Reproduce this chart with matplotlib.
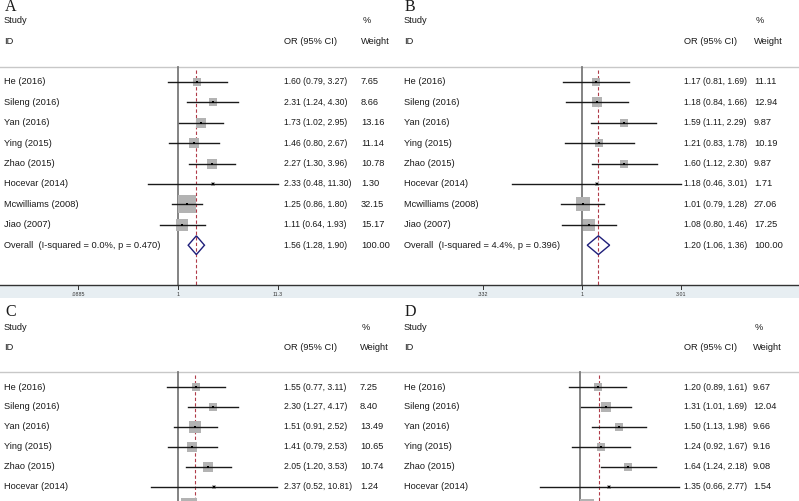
import matplotlib
matplotlib.use("Agg")
import matplotlib.pyplot as plt
from matplotlib.patches import Polygon
from matplotlib.transforms import blended_transform_factory

W, H = 799, 501
DPI = 100

STUDIES = ["He (2016)", "Sileng (2016)", "Yan (2016)", "Ying (2015)", "Zhao (2015)",
           "Hocevar (2014)", "Mcwilliams (2008)", "Jiao (2007)"]

# panel A
OR_A = [1.60, 2.31, 1.73, 1.46, 2.27, 2.33, 1.25, 1.11]
LO_A = [0.79, 1.24, 1.02, 0.80, 1.30, 0.48, 0.86, 0.64]
HI_A = [3.27, 4.30, 2.95, 2.67, 3.96, 11.30, 1.80, 1.93]
WT_A = [7.65, 8.66, 13.16, 11.14, 10.78, 1.30, 32.15, 15.17]
POOL_A = (1.56, 1.28, 1.90)
HET_A = "Overall  (I-squared = 0.0%, p = 0.470)"
TICKS_A = [0.0885, 1, 11.3]
TICKLAB_A = [".0885", "1", "11.3"]

# panel B
OR_B = [1.17, 1.18, 1.59, 1.21, 1.60, 1.18, 1.01, 1.08]
LO_B = [0.81, 0.84, 1.11, 0.83, 1.12, 0.46, 0.79, 0.80]
HI_B = [1.69, 1.66, 2.29, 1.78, 2.30, 3.01, 1.28, 1.46]
WT_B = [11.11, 12.94, 9.87, 10.19, 9.87, 1.71, 27.06, 17.25]
POOL_B = (1.20, 1.06, 1.36)
HET_B = "Overall  (I-squared = 4.4%, p = 0.396)"
TICKS_B = [0.332, 1, 3.01]
TICKLAB_B = [".332", "1", "3.01"]

# panel C (cut off at the bottom of the image)
OR_C = [1.55, 2.30, 1.51, 1.41, 2.05, 2.37, 1.29]
LO_C = [0.77, 1.27, 0.91, 0.79, 1.20, 0.52, 0.90]
HI_C = [3.11, 4.17, 2.52, 2.53, 3.53, 10.81, 1.85]
WT_C = [7.25, 8.40, 13.49, 10.65, 10.74, 1.24, 31.0]
POOL_C = 1.50

# panel D (cut off at the bottom of the image)
OR_D = [1.20, 1.31, 1.50, 1.24, 1.64, 1.35, 1.07]
LO_D = [0.89, 1.01, 1.13, 0.92, 1.24, 0.66, 0.85]
HI_D = [1.61, 1.69, 1.98, 1.67, 2.18, 2.77, 1.35]
WT_D = [9.67, 12.04, 9.66, 9.16, 9.08, 1.54, 25.0]
POOL_D = 1.22

INK = "#1a1a1a"
BOX = "#b3b3b3"
NAVY = "#1f1f7a"
RED = "#b03a48"
VLINE = "#7a7a7a"
HLINE = "#c8c8c8"
BAND = "#e7eef2"
SANS = "Liberation Sans"
SERIF = "Liberation Serif"
FS = 6.7      # labels / headers
FS_CI = 6.2   # the OR (95% CI) column is set tighter in the original


def panel(fig, letter, x0, y0, pw, center, ppd, row0, rowh, wcol, k,
          ors, los, his, wts, pool, het=None, ticks=None, ticklabs=None):
    ph = 300
    ax = fig.add_axes([x0 / W, 1 - (y0 + ph) / H, pw / W, ph / H])
    ax.set_xscale("log")
    ax.set_xlim(10 ** (-center / ppd), 10 ** ((pw - center) / ppd))
    ax.set_ylim((ph - row0) / rowh, -row0 / rowh)
    ax.axis("off")
    tr = blended_transform_factory(ax.transAxes, ax.transData)
    fx = lambda px: px / pw

    n = len(ors)
    ax.text(fx(5), (7 - row0) / rowh, letter, family=SERIF, fontsize=11.5,
            color=INK, va="center", ha="left", transform=tr)
    ax.text(fx(4), -3, "Study", family=SANS, fontsize=FS, color=INK, va="center", transform=tr)
    ax.text(fx(4), -2, "ID", family=SANS, fontsize=FS, color=INK, va="center", transform=tr)
    ax.text(fx(284), -2, "OR (95% CI)", family=SANS, fontsize=FS, color=INK, va="center", transform=tr)
    ax.text(fx(wcol + 2), -3, "%", family=SANS, fontsize=FS, color=INK, va="center", transform=tr)
    ax.text(fx(wcol), -2, "Weight", family=SANS, fontsize=FS, color=INK, va="center", transform=tr)
    ax.axhline(-0.75, color=HLINE, lw=1.0, zorder=1)

    y_axis = (285 - row0) / rowh
    ax.plot([1, 1], [-0.75, y_axis], color=VLINE, lw=1.3, zorder=2)
    pooled = pool[0] if isinstance(pool, tuple) else pool
    ax.plot([pooled, pooled], [-0.6, y_axis], color=RED, lw=0.8,
            dashes=(3, 2), zorder=2)

    for i in range(n):
        side = k * wts[i] ** 0.5
        ax.scatter([ors[i]], [i], marker="s", s=(side * 0.72) ** 2,
                   color=BOX, linewidths=0, zorder=3)
        ax.plot([los[i], his[i]], [i, i], color=INK, lw=1.0, zorder=4)
        ax.scatter([ors[i]], [i], marker="s", s=(2.2 * 0.72) ** 2,
                   color="black", linewidths=0, zorder=5)
        # rows whose centre falls below the image edge show only the box top
        if y0 + row0 + rowh * i > H - 2:
            continue
        ax.text(fx(4), i, STUDIES[i], family=SANS, fontsize=FS, color=INK,
                va="center", transform=tr)
        ax.text(fx(284), i, f"{ors[i]:.2f} ({los[i]:.2f}, {his[i]:.2f})",
                family=SANS, fontsize=FS_CI, color=INK, va="center", transform=tr)
        ax.text(fx(wcol), i, f"{wts[i]:.2f}", family=SANS, fontsize=FS,
                color=INK, va="center", transform=tr)

    if het is not None:
        p, lo, hi = pool
        yo = n
        ax.add_patch(Polygon([(lo, yo), (p, yo - 0.46), (hi, yo), (p, yo + 0.46)],
                             closed=True, fill=False, edgecolor=NAVY, lw=1.0, zorder=4))
        ax.text(fx(4), yo, het, family=SANS, fontsize=FS, color=INK,
                va="center", transform=tr)
        ax.text(fx(284), yo, f"{p:.2f} ({lo:.2f}, {hi:.2f})", family=SANS,
                fontsize=FS_CI, color=INK, va="center", transform=tr)
        ax.text(fx(wcol), yo, "100.00", family=SANS, fontsize=FS, color=INK,
                va="center", transform=tr)

    if ticks is not None:
        y_bot = (298 - row0) / rowh
        ax.axhspan(y_axis, y_bot, color=BAND, lw=0, zorder=0)
        ax.axhline(y_axis, color="#333333", lw=1.0, zorder=3)
        for t, lab in zip(ticks, ticklabs):
            ax.plot([t, t], [y_axis, y_axis + 4 / rowh], color="#333333", lw=0.7)
            ax.text(t, y_axis + 9.5 / rowh, lab, family=SANS, fontsize=3.8,
                    color="#333333", ha="center", va="center")
    return ax


fig = plt.figure(figsize=(W / DPI, H / DPI), dpi=DPI)
fig.patch.set_facecolor("white")

panel(fig, "A", 0, 0, 400, 178, 95, 82, 20.4, 361, 3.0,
      OR_A, LO_A, HI_A, WT_A, POOL_A, HET_A, TICKS_A, TICKLAB_A)
panel(fig, "B", 400, 0, 399, 182, 207, 82, 20.4, 354, 2.65,
      OR_B, LO_B, HI_B, WT_B, POOL_B, HET_B, TICKS_B, TICKLAB_B)
panel(fig, "C", 0, 305, 400, 178, 96, 82, 19.9, 360, 3.0,
      OR_C, LO_C, HI_C, WT_C, POOL_C)
panel(fig, "D", 400, 305, 399, 180, 224, 82, 19.9, 353, 2.65,
      OR_D, LO_D, HI_D, WT_D, POOL_D)

fig.savefig("out.png", dpi=DPI, facecolor="white")
